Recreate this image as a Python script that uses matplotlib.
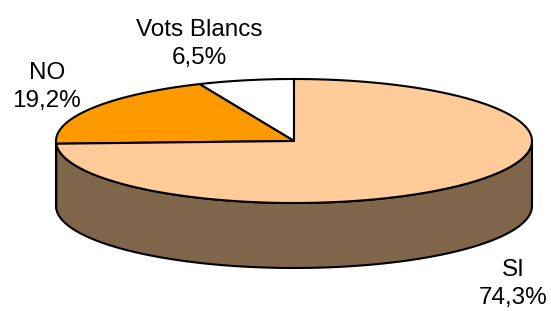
import numpy as np
import matplotlib.pyplot as plt
from matplotlib.patches import Polygon

# Datos del grafico
categorias = ["Vots Blancs", "NO", "SI"]
porcentajes = [6.5, 19.2, 74.3]
colores_cara = ["#FFFFFF", "#FF9900", "#FFCC99"]
colores_lado = ["#7F7F7F", "#7F4C00", "#7F6549"]

# Geometria (pixeles)
cx, cy = 294, 141
a, b = 238, 62
prof = 65

fig = plt.figure(figsize=(5.51, 3.11), dpi=100)
ax = fig.add_axes([0, 0, 1, 1])
ax.set_xlim(0, 551)
ax.set_ylim(311, 0)
ax.axis("off")


def punto(theta):
    t = np.radians(theta)
    return cx + a * np.cos(t), cy - b * np.sin(t)


# Angulos de cada porcion (antihorario desde arriba)
total = sum(porcentajes)
inicio = 90.0
angulos = []
for p in porcentajes:
    fin = inicio + 360.0 * p / total
    angulos.append((inicio, fin))
    inicio = fin

# Cara lateral (solo parte frontal 180-360)
for (t0, t1), col in zip(angulos, colores_lado):
    for desp in [0, 360]:
        s0 = max(t0 - desp, 180)
        s1 = min(t1 - desp, 360)
        if s1 <= s0:
            continue
        th = np.linspace(s0, s1, 100)
        xs, ys = punto(th)
        pts = list(zip(xs, ys)) + list(zip(xs[::-1], ys[::-1] + prof))
        ax.add_patch(Polygon(pts, closed=True, facecolor=col, edgecolor="black", lw=1.5))

# Cara superior
for (t0, t1), col in zip(angulos, colores_cara):
    th = np.linspace(t0, t1, 200)
    xs, ys = punto(th)
    pts = [(cx, cy)] + list(zip(xs, ys))
    ax.add_patch(Polygon(pts, closed=True, facecolor=col, edgecolor="black", lw=1.5,
                         joinstyle="miter"))

# Etiquetas (linea base de la ultima linea)
etiq_pos = [(199, 64), (47, 107), (513, 304)]
for cat, p, (x, y) in zip(categorias, porcentajes, etiq_pos):
    txt = f"{cat}\n{p:.1f}%".replace(".", ",")
    ax.text(x, y, txt, ha="center", va="baseline", fontsize=17.5,
            family="Liberation Sans", linespacing=1.33)

fig.savefig("out.png", dpi=100)
